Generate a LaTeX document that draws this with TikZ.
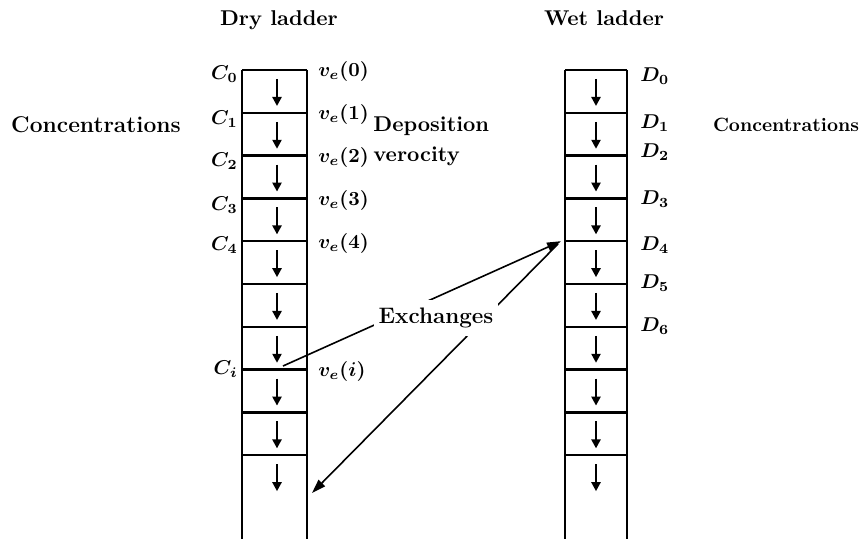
\documentclass[tikz,border=0pt]{standalone}
\usepackage{bm}
\usetikzlibrary{arrows.meta}

\begin{document}
\begin{tikzpicture}[
    x=0.5pt, y=-0.5pt,
    rail/.style={line width=1.2pt},
    fall/.style={line width=1.3pt, -{Triangle[length=4.5pt,width=4.5pt]}},
    exch/.style={line width=0.8pt},
    exchtip/.style={exch, -{Triangle[length=7pt,width=4.5pt]}},
    title/.style={font=\fontsize{10.7}{13}\selectfont\bfseries},
    lab/.style={font=\fontsize{10}{12}\selectfont, inner sep=1pt}
  ]
  \useasboundingbox (0,0) rectangle (867,539);
  % the two ladders
  \foreach \k in {0,...,9} {
    \pgfmathsetmacro{\ry}{70+42.8*\k}
    \coordinate (dl\k) at (242,\ry);
    \coordinate (dr\k) at (307,\ry);
    \coordinate (wl\k) at (565,\ry);
    \coordinate (wr\k) at (627,\ry);
    \draw[rail] (dl\k) -- (dr\k);
    \draw[rail] (wl\k) -- (wr\k);
    \draw[fall] (277,\ry+9) -- (277,\ry+36);
    \draw[fall] (596,\ry+9) -- (596,\ry+36);
  }
  \coordinate (dlb) at (242,539);
  \coordinate (drb) at (307,539);
  \coordinate (wlb) at (565,539);
  \coordinate (wrb) at (627,539);
  \draw[rail] (dl0) -- (dlb);
  \draw[rail] (dr0) -- (drb);
  \draw[rail] (wl0) -- (wlb);
  \draw[rail] (wr0) -- (wrb);

  % labels on the rungs
  \foreach \k/\s/\off in {0/0/-2pt,1/1/-3pt,2/2/-3pt,3/3/-3.5pt,4/4/-2pt,7/i/0pt} {
    \node[lab, anchor=east, xshift=-1pt, yshift=\off] (c\k) at (dl\k) {$\bm{C_\s}$};
    \node[lab, anchor=west, xshift=4.5pt, yshift=-1pt] (v\k) at (dr\k) {$\bm{v_e(\s)}$};
  }
  \foreach \k/\yy in {0/76,1/123,2/152,3/199,4/245,5/283,6/326}
    \node[lab, anchor=west] (d\k) at (638,\yy) {$\bm{D_\k}$};

  \node[title] (dry) at (279,20) {Dry ladder};
  \node[title] (wet) at (604,18) {Wet ladder};
  \node[font=\fontsize{11.4}{13}\selectfont\bfseries] (concl) at (96,125) {Concentrations};
  \node[font=\fontsize{9.6}{12}\selectfont\bfseries] (concr) at (786,125) {Concentrations};
  \node[title, anchor=west, inner sep=0pt] (depo) at (373,126) {Deposition};
  \node[title, anchor=west, inner sep=0pt] (velo) at (373,156) {verocity};

  % exchanges between the ladders
  \coordinate (src) at (283,366);
  \coordinate (hit) at (558,244);
  \coordinate (drop) at (312,493);
  \draw[exchtip] (src) -- ([xshift=-2pt]wl4);
  \draw[exchtip] (hit) -- (drop);
  \node[title, font=\fontsize{11.2}{13}\selectfont\bfseries, fill=white,
    inner xsep=2.5pt, inner ysep=4pt] (exc) at (436,318) {Exchanges};
\end{tikzpicture}
\end{document}
